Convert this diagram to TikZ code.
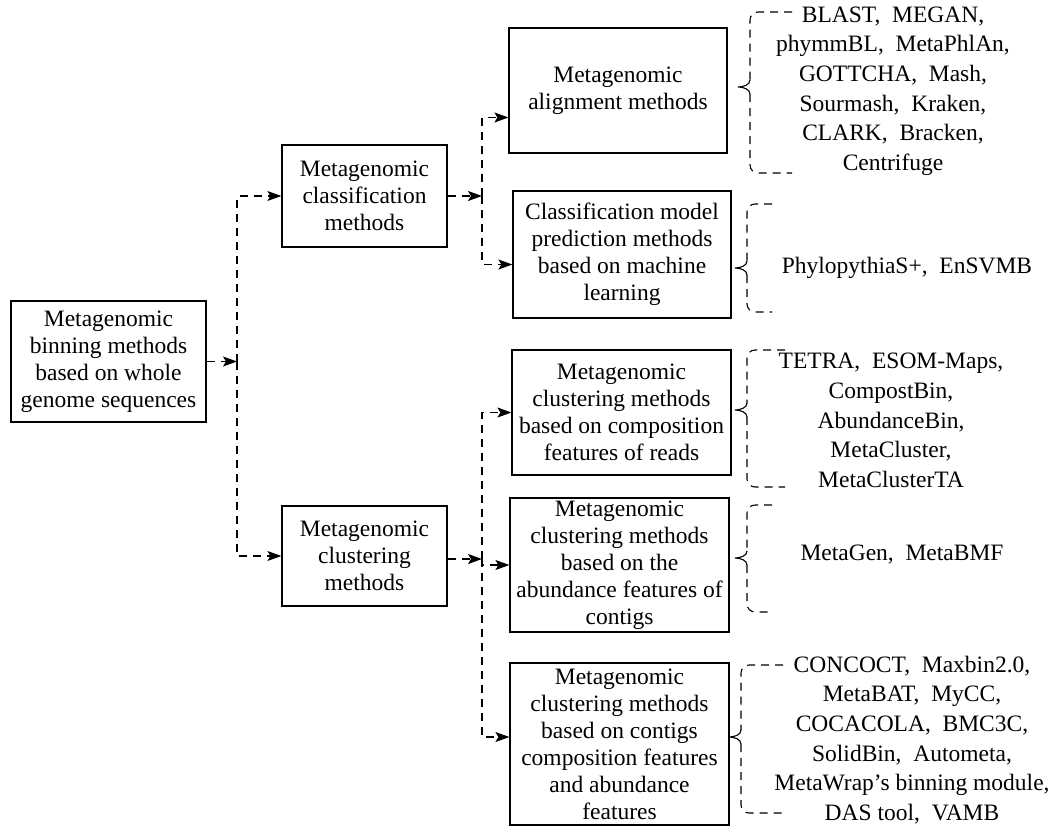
\documentclass[tikz,border=0pt]{standalone}
\usepackage{fontspec}
\setmainfont{Liberation Serif}
\usepackage{tikz}
\usetikzlibrary{arrows.meta,positioning,calc}

% dashed curly brace: x of stem, tip x, tip y, top y, bottom y, end x
\newcommand{\dashbrace}[6]{%
  \draw[dline,rounded corners=8pt] (#6,#4) -- (#1,#4) -- (#1,#3-7);
  \draw[dline,rounded corners=8pt] (#1,#3+7) -- (#1,#5) -- (#6,#5);
  \draw[line width=1.1pt] (#1,#3-7) .. controls (#1,#3-2) and (#2+5,#3) .. (#2,#3)
    .. controls (#2+5,#3) and (#1,#3+2) .. (#1,#3+7);}

\begin{document}
\begin{tikzpicture}[x=1pt,y=-1pt,
  every node/.append style={font=\fontsize{23.5}{27}\selectfont},
  dline/.style={dash pattern=on 8pt off 6pt,line width=1.1pt},
  arr/.style={-{Stealth[length=14pt,width=10pt,inset=3pt]}}]
  \tikzstyle{box} = [draw,line width=1.2pt,align=center,inner sep=0pt]
  \tikzstyle{tools} = [align=center,font=\fontsize{23.5}{29.6}\selectfont]
  \useasboundingbox (0,0) rectangle (1059,827);

  % method boxes
  \node (root) [box,minimum width=195pt,minimum height=121pt] at (108.5,361.5)
    {Metagenomic\\binning methods\\based on whole\\genome sequences};
  \node (classif) [box,minimum width=165pt,minimum height=102pt] at (364.5,196)
    {Metagenomic\\classification\\methods};
  \node (clust) [box,minimum width=165pt,minimum height=100pt] at (364.5,556)
    {Metagenomic\\clustering\\methods};
  \node (align) [box,minimum width=218pt,minimum height=125pt] at (618,90.5)
    {Metagenomic\\alignment methods};
  \node (ml) [box,minimum width=218pt,minimum height=127pt] at (622,254.5)
    {Classification model\\prediction methods\\based on machine\\learning};
  \node (reads) [box,minimum width=219pt,minimum height=125pt] at (621.5,412.5)
    {Metagenomic\\clustering methods\\based on composition\\features of reads};
  \node (abund) [box,minimum width=219pt,minimum height=134pt] at (619.5,565)
    {Metagenomic\\clustering methods\\based on the\\abundance features of\\contigs};
  \node (contig) [box,minimum width=219pt,minimum height=162pt] at (619.5,744)
    {Metagenomic\\clustering methods\\based on contigs\\composition features\\and abundance\\features};

  % tool lists
  \node (alignT) [tools] at (893,91)
    {BLAST,\ \ MEGAN,\\phymmBL,\ \ MetaPhlAn,\\GOTTCHA,\ \ Mash,\\Sourmash,\ \ Kraken,\\CLARK,\ \ Bracken,\\Centrifuge};
  \node (mlT) [tools] at (907,268) {PhylopythiaS+,\ \ EnSVMB};
  \node (readsT) [tools] at (891,420.5)
    {TETRA,\ \ ESOM-Maps,\\CompostBin,\\AbundanceBin,\\MetaCluster,\\MetaClusterTA};
  \node (abundT) [tools] at (902,555) {MetaGen,\ \ MetaBMF};
  \node (contigT) [tools] at (912,740)
    {CONCOCT,\ \ Maxbin2.0,\\MetaBAT,\ \ MyCC,\\COCACOLA,\ \ BMC3C,\\SolidBin,\ \ Autometa,\\MetaWrap's binning module,\\DAS tool,\ \ VAMB};

  % branching
  \coordinate (b1) at (237,361.5);
  \coordinate (b2) at (482,196);
  \coordinate (b3) at (482,559);
  \draw[dline,arr] (root) -- (b1);
  \draw[dline,arr] (b1) |- (classif.west);
  \draw[dline,arr] (b1) |- (clust.west);
  \draw[dline,arr] (classif) -- (b2);
  \draw[dline,arr] (b2) |- ([yshift=-27pt]align.west);
  \draw[dline,arr] (b2) |- ([yshift=-10pt]ml.west);
  \draw[dline,arr] (clust.east |- b3) -- (b3);
  \draw[dline,arr] (b3) |- (reads.west);
  \draw[dline,arr] (b3) |- (abund.west);
  \draw[dline,arr] (b3) |- ([yshift=7pt]contig.west);

  % braces
  \dashbrace{750}{738}{87}{12}{173}{792}
  \dashbrace{747}{735}{268}{204}{312}{772}
  \dashbrace{747}{735}{410}{350}{487}{785}
  \dashbrace{747}{735}{558}{505}{612}{772}
  \dashbrace{741}{729}{737}{665}{813}{783}
\end{tikzpicture}
\end{document}
